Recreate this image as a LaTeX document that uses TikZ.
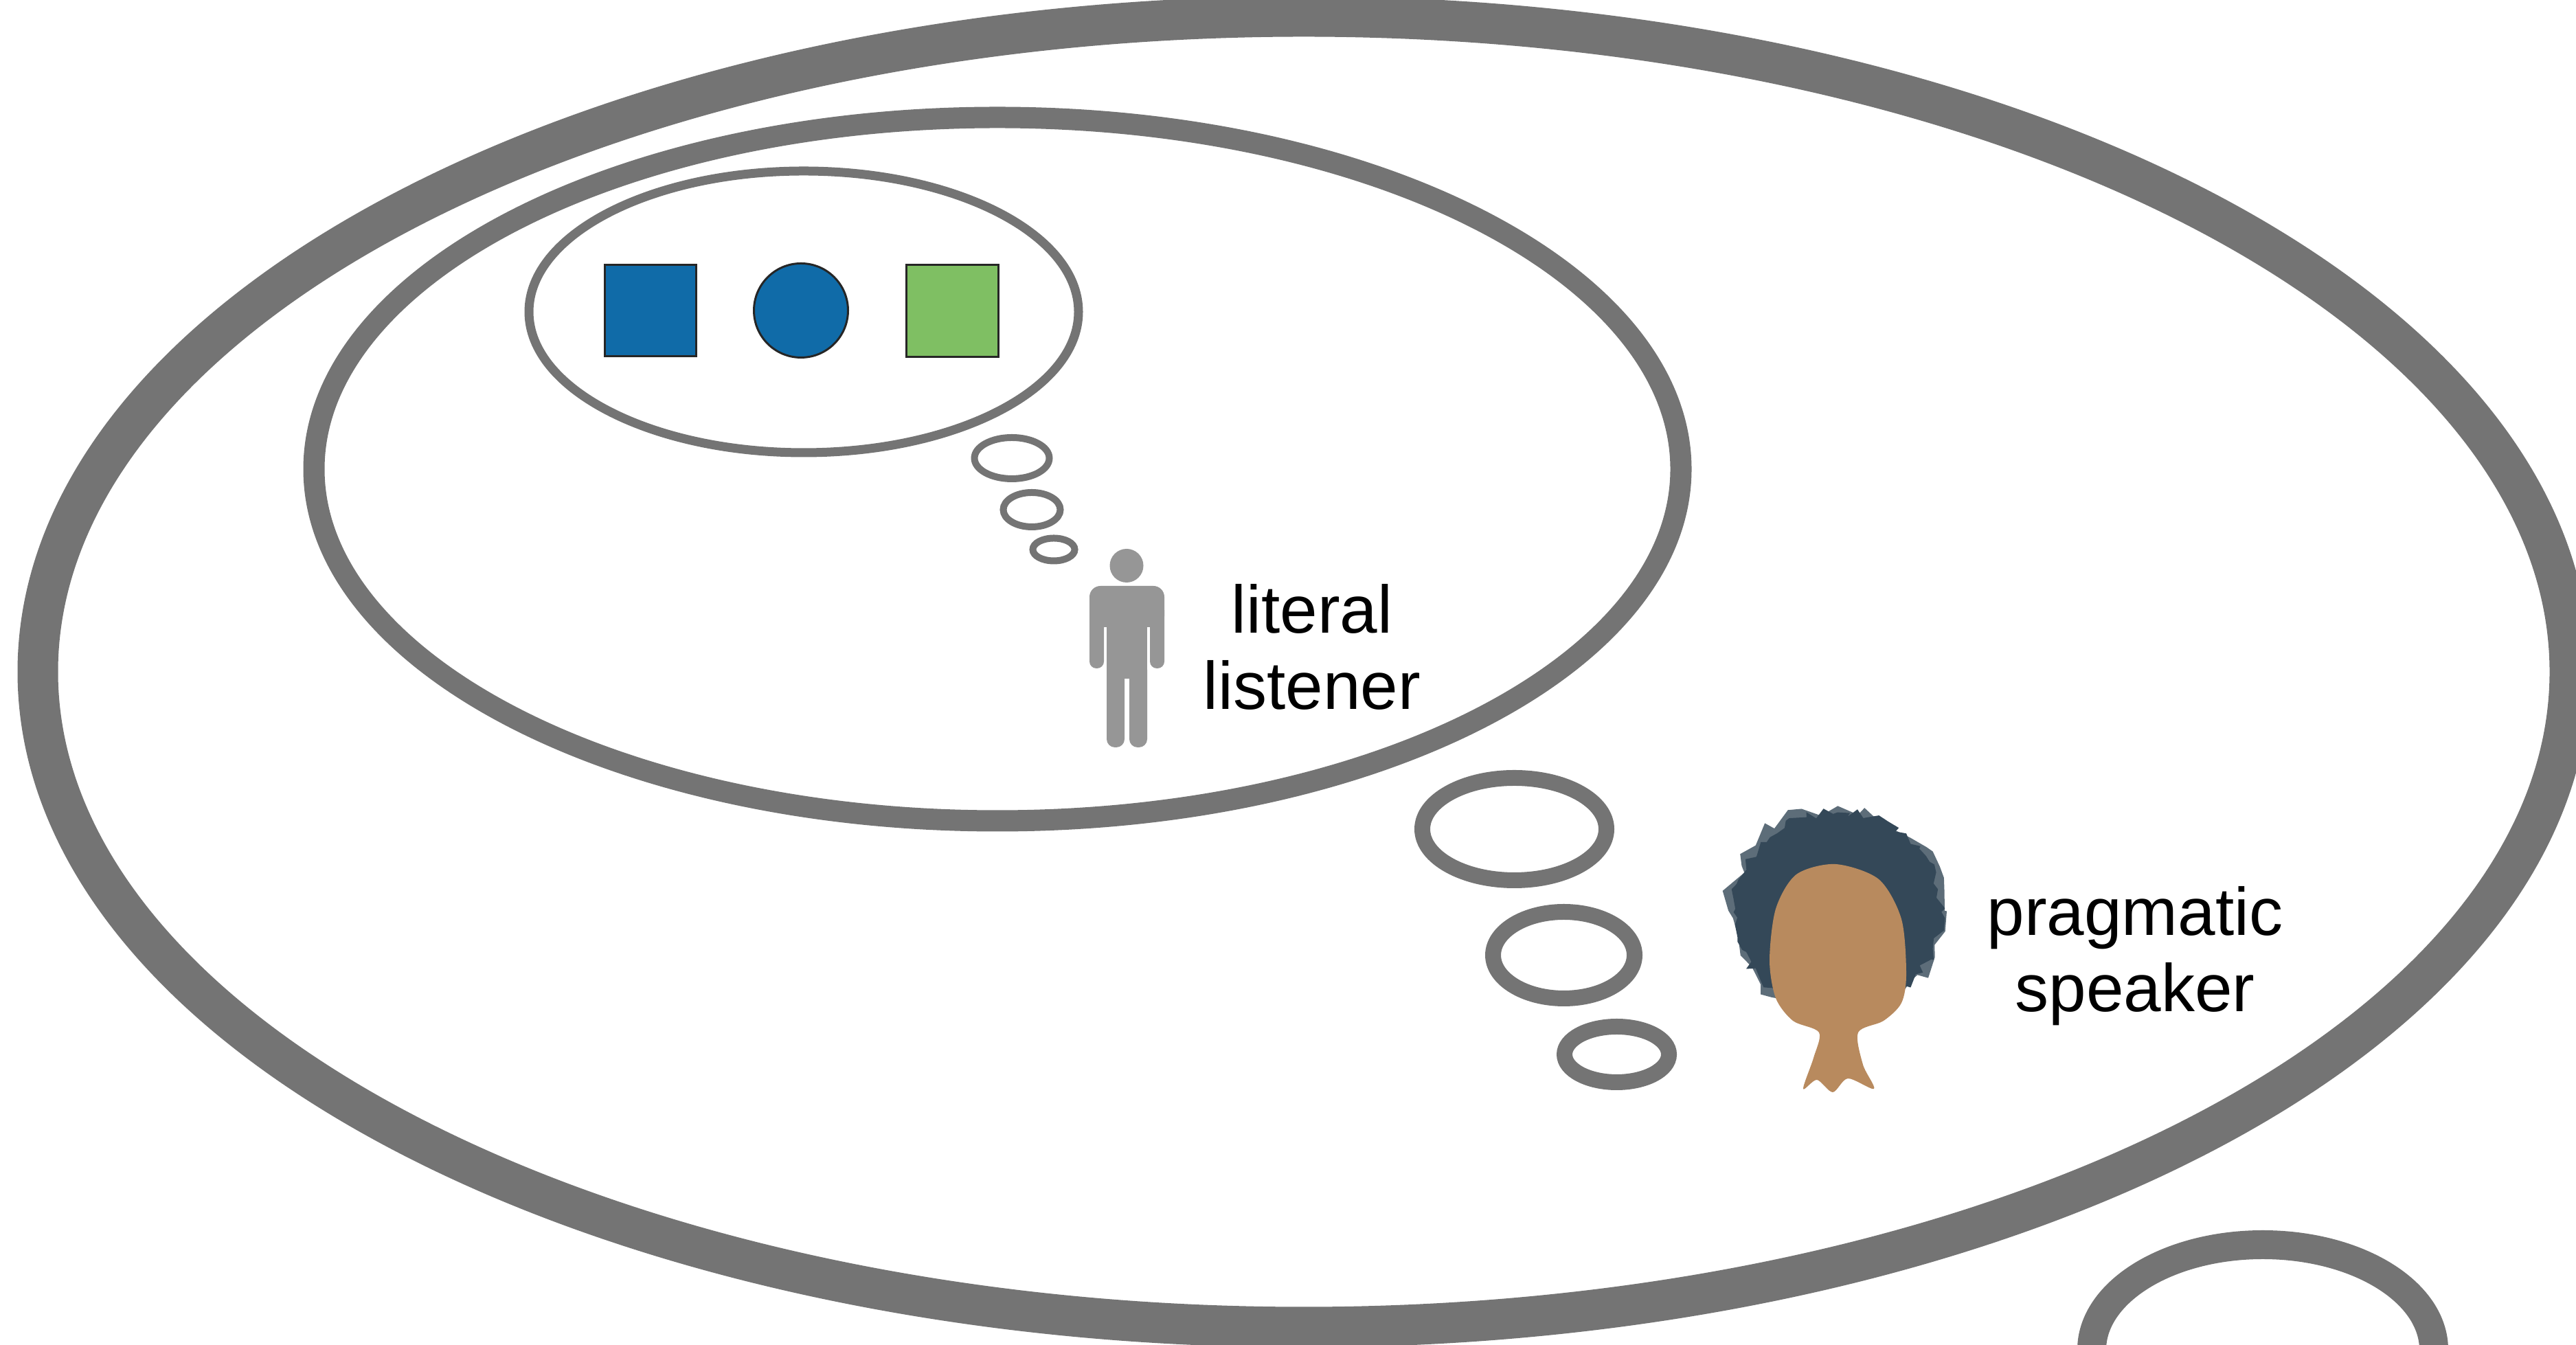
\documentclass[tikz,border=0pt]{standalone}
\usepackage{fontspec}
\setmainfont{Liberation Sans}
\usetikzlibrary{shapes.geometric,decorations.pathmorphing}

\definecolor{ringgray}{RGB}{116,116,116}
\definecolor{mangray}{RGB}{150,150,150}
\definecolor{objblue}{RGB}{16,107,168}
\definecolor{objgreen}{RGB}{127,191,99}
\definecolor{hairslate}{RGB}{52,72,88}
\definecolor{skintan}{RGB}{184,138,94}

\begin{document}
\begin{tikzpicture}[ring/.style={draw=ringgray},
                    thing/.style={draw=black!85, line width=0.85pt, inner sep=0pt},
                    who/.style={font=\fontsize{27.9}{31.6}\selectfont, align=center, anchor=base}]
        \clip (0,0) rectangle (37.5,19.58);

        % nested thought clouds
        \draw[ring, line width=0.59cm] (18.98,9.80) ellipse (18.43 and 9.54);
        \draw[ring, line width=0.31cm] (14.52,12.75) ellipse (9.95 and 5.12);
        \draw[ring, line width=0.13cm] (11.70,15.04) ellipse (4.00 and 2.05);

        % small bubbles (listener)
        \draw[ring, line width=0.10cm] (14.73,12.91) ellipse (0.545 and 0.30);
        \draw[ring, line width=0.10cm] (15.02,12.16) ellipse (0.415 and 0.25);
        \draw[ring, line width=0.10cm] (15.34,11.58) ellipse (0.305 and 0.165);

        % big bubbles (speaker)
        \draw[ring, line width=0.23cm] (22.045,7.51) ellipse (1.34 and 0.745);
        \draw[ring, line width=0.23cm] (22.765,5.675) ellipse (1.03 and 0.63);
        \draw[ring, line width=0.23cm] (23.535,4.23) ellipse (0.76 and 0.405);
        \draw[ring, line width=0.42cm] (32.94,-0.07) ellipse (2.49 and 1.53);

        % the objects
        \node[thing, fill=objblue, minimum size=1.33cm] at (9.47,15.06) (bluesq) {};
        \node[thing, fill=objblue, circle, minimum size=1.37cm] at (11.66,15.06) (bluecirc) {};
        \node[thing, fill=objgreen, minimum size=1.34cm] at (13.86,15.05) (greensq) {};

        % literal listener
        \begin{scope}[mangray]
            \fill (16.40,11.345) circle (0.245);
            \fill[rounded corners=0.16cm] (15.86,10.45) rectangle (16.95,11.05);
            \fill[rounded corners=0.1cm] (15.86,9.85) rectangle (16.07,10.8);
            \fill[rounded corners=0.1cm] (16.74,9.85) rectangle (16.95,10.8);
            \fill (16.11,9.7) rectangle (16.70,10.8);
            \fill[rounded corners=0.12cm] (16.11,8.70) rectangle (16.37,9.95);
            \fill[rounded corners=0.12cm] (16.44,8.70) rectangle (16.70,9.95);
        \end{scope}
        \node[who] at (19.10,9.25) (listener) {literal\\listener};

        % pragmatic speaker
        \pgfmathsetseed{11}
        \fill[hairslate!80, decorate, decoration={random steps, segment length=6pt, amplitude=4pt}]
            (26.75,6.32) ellipse (1.56 and 1.50);
        \fill[hairslate, decorate, decoration={random steps, segment length=3pt, amplitude=2pt}]
            (26.75,6.30) ellipse (1.51 and 1.45);
        \fill[skintan] plot[smooth cycle] coordinates {(26.72,7.00) (27.35,6.78) (27.68,6.20)
            (27.75,5.40) (27.68,4.98) (27.42,4.72) (27.05,4.55) (27.12,4.08) (27.28,3.73)
            (26.90,3.88) (26.68,3.68) (26.45,3.86) (26.25,3.73) (26.40,4.18) (26.48,4.55)
            (26.10,4.72) (25.85,5.05) (25.76,5.60) (25.85,6.35) (26.15,6.85)};
        \node[who] at (31.08,4.85) (speaker) {pragmatic\\speaker};

        %\draw (bluesq) -- (greensq);
\end{tikzpicture}
\end{document}
